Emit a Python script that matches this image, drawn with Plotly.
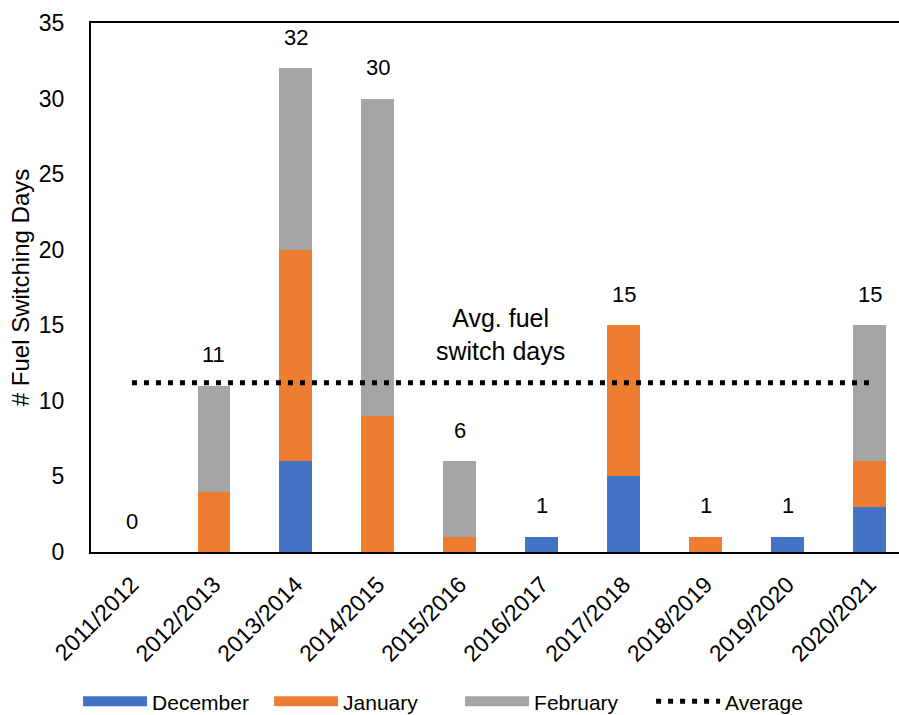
import plotly.graph_objects as go

# Heating seasons and fuel switching days per month
seasons = ["2011/2012", "2012/2013", "2013/2014", "2014/2015", "2015/2016",
           "2016/2017", "2017/2018", "2018/2019", "2019/2020", "2020/2021"]
december = [0, 0, 6, 0, 0, 1, 5, 0, 1, 3]
january = [0, 4, 14, 9, 1, 0, 10, 1, 0, 3]
february = [0, 7, 12, 21, 5, 0, 0, 0, 0, 9]

totals = [d + j + f for d, j, f in zip(december, january, february)]
average = sum(totals) / len(totals)

FONT = "Liberation Sans, Arial, sans-serif"
months = [("December", december, "#4472C4"),
          ("January", january, "#ED7D31"),
          ("February", february, "#A5A5A5")]

fig = go.Figure()
for name, vals, color in months:
    fig.add_trace(go.Bar(x=seasons, y=vals, name=name, marker_color=color,
                         marker_line_width=0, width=0.4, showlegend=False,
                         hoverinfo="skip"))

fig.add_trace(go.Scatter(x=[seasons[0], seasons[-1]], y=[average, average],
                         mode="lines", name="Average", showlegend=False,
                         line=dict(color="black", width=5, dash="5px,7px")))

# Legend entries drawn as wide swatches
for name, _, color in months:
    fig.add_trace(go.Scatter(x=[None], y=[None], mode="lines", name=name,
                             line=dict(color=color, width=15)))
fig.add_trace(go.Scatter(x=[None], y=[None], mode="lines", name="Average",
                         line=dict(color="black", width=5, dash="5px,7px")))

# Season totals above each stack
for s, t in zip(seasons, totals):
    fig.add_annotation(x=s, y=t, text=str(t), showarrow=False, yanchor="middle",
                       yshift=31, font=dict(family=FONT, size=22, color="black"))

fig.add_annotation(x=4.5, y=14.4, text="Avg. fuel<br>switch days", showarrow=False,
                   font=dict(family=FONT, size=25, color="black"))

fig.update_layout(
    width=899, height=715,
    margin=dict(l=91, r=0, t=23, b=163, autoexpand=False),
    barmode="stack",
    plot_bgcolor="white", paper_bgcolor="white",
    font=dict(family=FONT, color="black"),
    legend=dict(orientation="h", traceorder="normal", x=-0.016, xanchor="left",
                y=-0.283, yanchor="middle", entrywidth=112,
                font=dict(family=FONT, size=21, color="black"), itemwidth=64,
                bgcolor="rgba(0,0,0,0)"),
    xaxis=dict(range=[-0.5, 9.36], showline=True, linecolor="black", linewidth=2,
               mirror=True, ticks="", tickangle=-45, showgrid=False, automargin=False,
               ticklabelstandoff=8,
               tickfont=dict(family=FONT, size=23, color="black")),
    yaxis=dict(range=[0, 35], dtick=5, showline=True, linecolor="black", linewidth=2,
               ticks="", showgrid=False, zeroline=False, ticklabelstandoff=20,
               automargin=False,
               tickfont=dict(family=FONT, size=23, color="black"),
               title=dict(text="# Fuel Switching Days", standoff=2,
                          font=dict(family=FONT, size=24, color="black"))),
)

fig.write_html("out.html")
